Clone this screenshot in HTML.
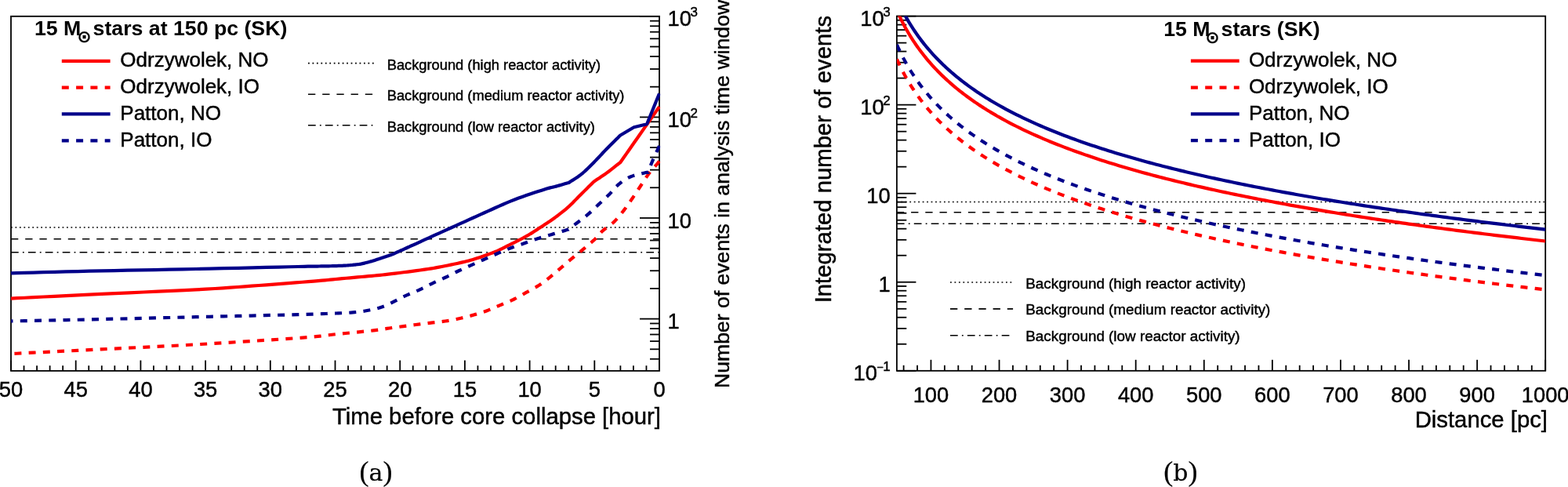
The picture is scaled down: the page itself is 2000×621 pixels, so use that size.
<!DOCTYPE html>
<html><head><meta charset="utf-8"><title>Pre-supernova neutrino events</title>
<style>html,body{margin:0;padding:0;background:#fff;}body{width:2000px;height:621px;overflow:hidden;}svg{display:block;}</style>
</head><body>
<svg width="2000" height="621" viewBox="0 0 2000 621">
<rect width="2000" height="621" fill="#fff"/>
<clipPath id="cl"><rect x="12.8" y="20.8" width="829.4" height="452.09999999999997"/></clipPath>
<clipPath id="cr"><rect x="1143.9" y="20.6" width="827.3" height="452.2"/></clipPath>
<line x1="14.00" y1="289.91" x2="841.00" y2="289.91" stroke="#000" stroke-width="1.5" stroke-dasharray="1.8 3.66"/>
<line x1="14.00" y1="304.70" x2="841.00" y2="304.70" stroke="#000" stroke-width="1.5" stroke-dasharray="9.3 8.9"/>
<line x1="14.00" y1="321.73" x2="841.00" y2="321.73" stroke="#000" stroke-width="1.5" stroke-dasharray="9.7 5.2 1.8 5.2"/>
<rect x="14.0" y="20.8" width="827.0" height="452.09999999999997" fill="none" stroke="#000" stroke-width="1.8"/>
<line x1="841.00" y1="472.90" x2="841.00" y2="459.50" stroke="#000" stroke-width="1.8" />
<text x="841.00" y="505.80" font-size="27.3" text-anchor="middle" font-weight="normal" font-family='"Liberation Sans", Arial, Helvetica, sans-serif' stroke="#000" stroke-width="0.45" >0</text>
<line x1="824.46" y1="472.90" x2="824.46" y2="466.20" stroke="#000" stroke-width="1.8" />
<line x1="807.92" y1="472.90" x2="807.92" y2="466.20" stroke="#000" stroke-width="1.8" />
<line x1="791.38" y1="472.90" x2="791.38" y2="466.20" stroke="#000" stroke-width="1.8" />
<line x1="774.84" y1="472.90" x2="774.84" y2="466.20" stroke="#000" stroke-width="1.8" />
<line x1="758.30" y1="472.90" x2="758.30" y2="459.50" stroke="#000" stroke-width="1.8" />
<text x="758.30" y="505.80" font-size="27.3" text-anchor="middle" font-weight="normal" font-family='"Liberation Sans", Arial, Helvetica, sans-serif' stroke="#000" stroke-width="0.45" >5</text>
<line x1="741.76" y1="472.90" x2="741.76" y2="466.20" stroke="#000" stroke-width="1.8" />
<line x1="725.22" y1="472.90" x2="725.22" y2="466.20" stroke="#000" stroke-width="1.8" />
<line x1="708.68" y1="472.90" x2="708.68" y2="466.20" stroke="#000" stroke-width="1.8" />
<line x1="692.14" y1="472.90" x2="692.14" y2="466.20" stroke="#000" stroke-width="1.8" />
<line x1="675.60" y1="472.90" x2="675.60" y2="459.50" stroke="#000" stroke-width="1.8" />
<text x="675.60" y="505.80" font-size="27.3" text-anchor="middle" font-weight="normal" font-family='"Liberation Sans", Arial, Helvetica, sans-serif' stroke="#000" stroke-width="0.45" >10</text>
<line x1="659.06" y1="472.90" x2="659.06" y2="466.20" stroke="#000" stroke-width="1.8" />
<line x1="642.52" y1="472.90" x2="642.52" y2="466.20" stroke="#000" stroke-width="1.8" />
<line x1="625.98" y1="472.90" x2="625.98" y2="466.20" stroke="#000" stroke-width="1.8" />
<line x1="609.44" y1="472.90" x2="609.44" y2="466.20" stroke="#000" stroke-width="1.8" />
<line x1="592.90" y1="472.90" x2="592.90" y2="459.50" stroke="#000" stroke-width="1.8" />
<text x="592.90" y="505.80" font-size="27.3" text-anchor="middle" font-weight="normal" font-family='"Liberation Sans", Arial, Helvetica, sans-serif' stroke="#000" stroke-width="0.45" >15</text>
<line x1="576.36" y1="472.90" x2="576.36" y2="466.20" stroke="#000" stroke-width="1.8" />
<line x1="559.82" y1="472.90" x2="559.82" y2="466.20" stroke="#000" stroke-width="1.8" />
<line x1="543.28" y1="472.90" x2="543.28" y2="466.20" stroke="#000" stroke-width="1.8" />
<line x1="526.74" y1="472.90" x2="526.74" y2="466.20" stroke="#000" stroke-width="1.8" />
<line x1="510.20" y1="472.90" x2="510.20" y2="459.50" stroke="#000" stroke-width="1.8" />
<text x="510.20" y="505.80" font-size="27.3" text-anchor="middle" font-weight="normal" font-family='"Liberation Sans", Arial, Helvetica, sans-serif' stroke="#000" stroke-width="0.45" >20</text>
<line x1="493.66" y1="472.90" x2="493.66" y2="466.20" stroke="#000" stroke-width="1.8" />
<line x1="477.12" y1="472.90" x2="477.12" y2="466.20" stroke="#000" stroke-width="1.8" />
<line x1="460.58" y1="472.90" x2="460.58" y2="466.20" stroke="#000" stroke-width="1.8" />
<line x1="444.04" y1="472.90" x2="444.04" y2="466.20" stroke="#000" stroke-width="1.8" />
<line x1="427.50" y1="472.90" x2="427.50" y2="459.50" stroke="#000" stroke-width="1.8" />
<text x="427.50" y="505.80" font-size="27.3" text-anchor="middle" font-weight="normal" font-family='"Liberation Sans", Arial, Helvetica, sans-serif' stroke="#000" stroke-width="0.45" >25</text>
<line x1="410.96" y1="472.90" x2="410.96" y2="466.20" stroke="#000" stroke-width="1.8" />
<line x1="394.42" y1="472.90" x2="394.42" y2="466.20" stroke="#000" stroke-width="1.8" />
<line x1="377.88" y1="472.90" x2="377.88" y2="466.20" stroke="#000" stroke-width="1.8" />
<line x1="361.34" y1="472.90" x2="361.34" y2="466.20" stroke="#000" stroke-width="1.8" />
<line x1="344.80" y1="472.90" x2="344.80" y2="459.50" stroke="#000" stroke-width="1.8" />
<text x="344.80" y="505.80" font-size="27.3" text-anchor="middle" font-weight="normal" font-family='"Liberation Sans", Arial, Helvetica, sans-serif' stroke="#000" stroke-width="0.45" >30</text>
<line x1="328.26" y1="472.90" x2="328.26" y2="466.20" stroke="#000" stroke-width="1.8" />
<line x1="311.72" y1="472.90" x2="311.72" y2="466.20" stroke="#000" stroke-width="1.8" />
<line x1="295.18" y1="472.90" x2="295.18" y2="466.20" stroke="#000" stroke-width="1.8" />
<line x1="278.64" y1="472.90" x2="278.64" y2="466.20" stroke="#000" stroke-width="1.8" />
<line x1="262.10" y1="472.90" x2="262.10" y2="459.50" stroke="#000" stroke-width="1.8" />
<text x="262.10" y="505.80" font-size="27.3" text-anchor="middle" font-weight="normal" font-family='"Liberation Sans", Arial, Helvetica, sans-serif' stroke="#000" stroke-width="0.45" >35</text>
<line x1="245.56" y1="472.90" x2="245.56" y2="466.20" stroke="#000" stroke-width="1.8" />
<line x1="229.02" y1="472.90" x2="229.02" y2="466.20" stroke="#000" stroke-width="1.8" />
<line x1="212.48" y1="472.90" x2="212.48" y2="466.20" stroke="#000" stroke-width="1.8" />
<line x1="195.94" y1="472.90" x2="195.94" y2="466.20" stroke="#000" stroke-width="1.8" />
<line x1="179.40" y1="472.90" x2="179.40" y2="459.50" stroke="#000" stroke-width="1.8" />
<text x="179.40" y="505.80" font-size="27.3" text-anchor="middle" font-weight="normal" font-family='"Liberation Sans", Arial, Helvetica, sans-serif' stroke="#000" stroke-width="0.45" >40</text>
<line x1="162.86" y1="472.90" x2="162.86" y2="466.20" stroke="#000" stroke-width="1.8" />
<line x1="146.32" y1="472.90" x2="146.32" y2="466.20" stroke="#000" stroke-width="1.8" />
<line x1="129.78" y1="472.90" x2="129.78" y2="466.20" stroke="#000" stroke-width="1.8" />
<line x1="113.24" y1="472.90" x2="113.24" y2="466.20" stroke="#000" stroke-width="1.8" />
<line x1="96.70" y1="472.90" x2="96.70" y2="459.50" stroke="#000" stroke-width="1.8" />
<text x="96.70" y="505.80" font-size="27.3" text-anchor="middle" font-weight="normal" font-family='"Liberation Sans", Arial, Helvetica, sans-serif' stroke="#000" stroke-width="0.45" >45</text>
<line x1="80.16" y1="472.90" x2="80.16" y2="466.20" stroke="#000" stroke-width="1.8" />
<line x1="63.62" y1="472.90" x2="63.62" y2="466.20" stroke="#000" stroke-width="1.8" />
<line x1="47.08" y1="472.90" x2="47.08" y2="466.20" stroke="#000" stroke-width="1.8" />
<line x1="30.54" y1="472.90" x2="30.54" y2="466.20" stroke="#000" stroke-width="1.8" />
<line x1="14.00" y1="472.90" x2="14.00" y2="459.50" stroke="#000" stroke-width="1.8" />
<text x="14.00" y="505.80" font-size="27.3" text-anchor="middle" font-weight="normal" font-family='"Liberation Sans", Arial, Helvetica, sans-serif' stroke="#000" stroke-width="0.45" >50</text>
<line x1="841.00" y1="457.78" x2="829.00" y2="457.78" stroke="#000" stroke-width="1.8" />
<line x1="841.00" y1="445.31" x2="829.00" y2="445.31" stroke="#000" stroke-width="1.8" />
<line x1="841.00" y1="435.13" x2="829.00" y2="435.13" stroke="#000" stroke-width="1.8" />
<line x1="841.00" y1="426.52" x2="829.00" y2="426.52" stroke="#000" stroke-width="1.8" />
<line x1="841.00" y1="419.06" x2="829.00" y2="419.06" stroke="#000" stroke-width="1.8" />
<line x1="841.00" y1="412.48" x2="829.00" y2="412.48" stroke="#000" stroke-width="1.8" />
<line x1="841.00" y1="406.60" x2="816.00" y2="406.60" stroke="#000" stroke-width="1.8" />
<line x1="841.00" y1="367.89" x2="829.00" y2="367.89" stroke="#000" stroke-width="1.8" />
<line x1="841.00" y1="345.24" x2="829.00" y2="345.24" stroke="#000" stroke-width="1.8" />
<line x1="841.00" y1="329.18" x2="829.00" y2="329.18" stroke="#000" stroke-width="1.8" />
<line x1="841.00" y1="316.71" x2="829.00" y2="316.71" stroke="#000" stroke-width="1.8" />
<line x1="841.00" y1="306.53" x2="829.00" y2="306.53" stroke="#000" stroke-width="1.8" />
<line x1="841.00" y1="297.92" x2="829.00" y2="297.92" stroke="#000" stroke-width="1.8" />
<line x1="841.00" y1="290.46" x2="829.00" y2="290.46" stroke="#000" stroke-width="1.8" />
<line x1="841.00" y1="283.88" x2="829.00" y2="283.88" stroke="#000" stroke-width="1.8" />
<line x1="841.00" y1="278.00" x2="816.00" y2="278.00" stroke="#000" stroke-width="1.8" />
<line x1="841.00" y1="239.29" x2="829.00" y2="239.29" stroke="#000" stroke-width="1.8" />
<line x1="841.00" y1="216.64" x2="829.00" y2="216.64" stroke="#000" stroke-width="1.8" />
<line x1="841.00" y1="200.58" x2="829.00" y2="200.58" stroke="#000" stroke-width="1.8" />
<line x1="841.00" y1="188.11" x2="829.00" y2="188.11" stroke="#000" stroke-width="1.8" />
<line x1="841.00" y1="177.93" x2="829.00" y2="177.93" stroke="#000" stroke-width="1.8" />
<line x1="841.00" y1="169.32" x2="829.00" y2="169.32" stroke="#000" stroke-width="1.8" />
<line x1="841.00" y1="161.86" x2="829.00" y2="161.86" stroke="#000" stroke-width="1.8" />
<line x1="841.00" y1="155.28" x2="829.00" y2="155.28" stroke="#000" stroke-width="1.8" />
<line x1="841.00" y1="149.40" x2="816.00" y2="149.40" stroke="#000" stroke-width="1.8" />
<line x1="841.00" y1="110.69" x2="829.00" y2="110.69" stroke="#000" stroke-width="1.8" />
<line x1="841.00" y1="88.04" x2="829.00" y2="88.04" stroke="#000" stroke-width="1.8" />
<line x1="841.00" y1="71.98" x2="829.00" y2="71.98" stroke="#000" stroke-width="1.8" />
<line x1="841.00" y1="59.51" x2="829.00" y2="59.51" stroke="#000" stroke-width="1.8" />
<line x1="841.00" y1="49.33" x2="829.00" y2="49.33" stroke="#000" stroke-width="1.8" />
<line x1="841.00" y1="40.72" x2="829.00" y2="40.72" stroke="#000" stroke-width="1.8" />
<line x1="841.00" y1="33.26" x2="829.00" y2="33.26" stroke="#000" stroke-width="1.8" />
<line x1="841.00" y1="26.68" x2="829.00" y2="26.68" stroke="#000" stroke-width="1.8" />
<line x1="841.00" y1="20.80" x2="816.00" y2="20.80" stroke="#000" stroke-width="1.6" />
<text x="851.50" y="419.10" font-size="27.3" text-anchor="start" font-weight="normal" font-family='"Liberation Sans", Arial, Helvetica, sans-serif' stroke="#000" stroke-width="0.45" >1</text>
<text x="851.50" y="290.50" font-size="27.3" text-anchor="start" font-weight="normal" font-family='"Liberation Sans", Arial, Helvetica, sans-serif' stroke="#000" stroke-width="0.45" >10</text>
<text x="851.50" y="161.90" font-size="27.3" text-anchor="start" font-weight="normal" font-family='"Liberation Sans", Arial, Helvetica, sans-serif' stroke="#000" stroke-width="0.45" >10<tspan font-size="17" dx="-1.5" dy="-12">2</tspan></text>
<text x="851.50" y="33.30" font-size="27.3" text-anchor="start" font-weight="normal" font-family='"Liberation Sans", Arial, Helvetica, sans-serif' stroke="#000" stroke-width="0.45" >10<tspan font-size="17" dx="-1.5" dy="-12">3</tspan></text>
<text x="843.00" y="540.50" font-size="29.3" text-anchor="end" font-weight="normal" font-family='"Liberation Sans", Arial, Helvetica, sans-serif' stroke="#000" stroke-width="0.45" >Time before core collapse [hour]</text>
<text x="930.20" y="495.00" font-size="26.6" text-anchor="start" font-weight="normal" font-family='"Liberation Sans", Arial, Helvetica, sans-serif' stroke="#000" stroke-width="0.45" transform="rotate(-90 930.2 495)">Number of events in analysis time window</text>
<path d="M14.00,380.60 L21.47,380.22 L31.12,379.73 L42.59,379.14 L55.50,378.49 L69.47,377.78 L84.12,377.05 L99.09,376.32 L114.00,375.60 L129.66,374.88 L146.78,374.12 L164.82,373.33 L183.25,372.52 L201.52,371.72 L219.09,370.92 L235.43,370.14 L250.00,369.40 L262.75,368.69 L274.17,367.99 L284.54,367.32 L294.12,366.65 L303.19,365.99 L312.02,365.33 L320.86,364.67 L330.00,364.00 L339.49,363.31 L349.09,362.59 L358.64,361.87 L367.99,361.15 L376.96,360.45 L385.39,359.78 L393.13,359.16 L400.00,358.60 L405.80,358.11 L410.58,357.69 L414.60,357.32 L418.11,356.98 L421.38,356.65 L424.64,356.32 L428.17,355.98 L432.20,355.60 L436.71,355.19 L441.45,354.77 L446.33,354.34 L451.27,353.90 L456.19,353.46 L461.01,353.03 L465.64,352.61 L470.00,352.20 L474.00,351.82 L477.68,351.48 L481.15,351.15 L484.53,350.82 L487.92,350.48 L491.46,350.10 L495.25,349.68 L499.40,349.20 L504.08,348.63 L509.25,347.99 L514.71,347.29 L520.29,346.57 L525.79,345.84 L531.04,345.14 L535.83,344.48 L540.00,343.90 L543.42,343.41 L546.21,343.00 L548.57,342.64 L550.66,342.31 L552.67,341.96 L554.78,341.58 L557.16,341.14 L560.00,340.60 L563.34,339.96 L567.05,339.23 L570.99,338.45 L575.04,337.62 L579.09,336.79 L583.02,335.95 L586.69,335.15 L590.00,334.40 L592.91,333.71 L595.54,333.06 L597.96,332.44 L600.23,331.82 L602.43,331.20 L604.63,330.55 L606.89,329.86 L609.30,329.10 L611.90,328.25 L614.63,327.33 L617.44,326.34 L620.25,325.34 L622.98,324.34 L625.57,323.38 L627.93,322.49 L630.00,321.70 L631.74,321.02 L633.20,320.42 L634.45,319.89 L635.54,319.39 L636.55,318.92 L637.54,318.44 L638.57,317.95 L639.70,317.40 L640.90,316.82 L642.10,316.21 L643.30,315.60 L644.50,314.98 L645.70,314.36 L646.90,313.73 L648.10,313.11 L649.30,312.50 L650.51,311.90 L651.72,311.30 L652.93,310.70 L654.14,310.11 L655.36,309.51 L656.57,308.91 L657.79,308.31 L659.00,307.70 L660.21,307.09 L661.43,306.48 L662.64,305.87 L663.86,305.25 L665.07,304.63 L666.28,304.00 L667.49,303.36 L668.70,302.70 L669.90,302.03 L671.10,301.36 L672.30,300.67 L673.50,299.98 L674.70,299.28 L675.90,298.56 L677.10,297.84 L678.30,297.10 L679.51,296.35 L680.72,295.57 L681.93,294.79 L683.14,293.99 L684.36,293.19 L685.57,292.39 L686.79,291.59 L688.00,290.80 L689.22,290.01 L690.44,289.23 L691.66,288.44 L692.88,287.65 L694.10,286.86 L695.31,286.07 L696.51,285.29 L697.70,284.50 L698.82,283.76 L699.85,283.09 L700.85,282.45 L701.85,281.79 L702.91,281.08 L704.07,280.27 L705.38,279.32 L706.90,278.20 L708.64,276.90 L710.58,275.45 L712.67,273.87 L714.87,272.20 L717.12,270.44 L719.39,268.63 L721.63,266.77 L723.80,264.90 L725.91,262.98 L728.02,260.96 L730.14,258.89 L732.25,256.76 L734.36,254.61 L736.48,252.45 L738.59,250.31 L740.70,248.20 L742.93,246.00 L745.32,243.63 L747.78,241.20 L750.21,238.81 L752.50,236.54 L754.56,234.50 L756.30,232.79 L757.60,231.50 L758.83,230.68 L760.46,229.60 L762.39,228.33 L764.55,226.90 L766.85,225.36 L769.19,223.77 L771.51,222.17 L773.70,220.60 L775.95,218.94 L778.41,217.07 L780.96,215.10 L783.51,213.12 L785.92,211.22 L788.10,209.51 L789.93,208.07 L791.30,207.00 L793.25,204.22 L795.84,200.51 L798.94,196.09 L802.37,191.18 L805.99,186.00 L809.66,180.77 L813.21,175.69 L816.50,171.00 L819.76,166.35 L823.25,161.38 L826.82,156.30 L830.33,151.30 L833.64,146.58 L836.61,142.35 L839.11,138.78 L841.00,136.10" fill="none" stroke="#ff0000" stroke-width="4.2" stroke-linejoin="round" clip-path="url(#cl)"/>
<path d="M841.00,205.50 L840.78,205.78 L840.54,206.08 L840.25,206.44 L839.91,206.87 L839.48,207.40 L838.95,208.05 L838.30,208.84 L837.50,209.80 L836.52,210.95 L835.37,212.27 L834.08,213.75 L832.69,215.34 L831.25,217.02 L829.79,218.76 L828.36,220.53 L827.00,222.30 L825.69,224.11 L824.38,226.00 L823.06,227.95 L821.75,229.94 L820.44,231.96 L819.12,233.99 L817.81,236.01 L816.50,238.00 L815.19,239.98 L813.87,241.97 L812.56,243.97 L811.24,245.97 L809.93,247.96 L808.62,249.93 L807.31,251.88 L806.00,253.80 L804.71,255.68 L803.44,257.53 L802.19,259.36 L800.93,261.17 L799.66,262.97 L798.35,264.77 L797.00,266.58 L795.60,268.40 L794.14,270.25 L792.65,272.14 L791.12,274.05 L789.56,275.94 L787.97,277.82 L786.34,279.65 L784.69,281.41 L783.00,283.10 L781.25,284.69 L779.42,286.19 L777.53,287.62 L775.62,289.01 L773.73,290.38 L771.87,291.76 L770.09,293.16 L768.40,294.60 L766.96,295.98 L765.81,297.24 L764.80,298.46 L763.79,299.71 L762.64,301.07 L761.22,302.64 L759.39,304.49 L757.00,306.70 L753.77,309.51 L749.70,312.95 L745.10,316.78 L740.29,320.76 L735.56,324.64 L731.23,328.18 L727.61,331.15 L725.00,333.30 L722.91,335.10 L720.03,337.58 L716.59,340.55 L712.82,343.79 L708.96,347.11 L705.23,350.29 L701.87,353.12 L699.10,355.40 L696.93,357.14 L695.13,358.55 L693.62,359.70 L692.28,360.68 L691.01,361.54 L689.73,362.38 L688.33,363.28 L686.70,364.30 L684.88,365.41 L682.97,366.53 L681.00,367.64 L678.98,368.76 L676.92,369.87 L674.86,370.98 L672.82,372.09 L670.80,373.20 L668.81,374.32 L666.83,375.45 L664.84,376.58 L662.86,377.71 L660.86,378.83 L658.86,379.92 L656.84,380.98 L654.80,382.00 L652.74,382.97 L650.66,383.89 L648.56,384.79 L646.46,385.66 L644.34,386.51 L642.23,387.36 L640.11,388.22 L638.00,389.10 L635.89,390.00 L633.78,390.92 L631.67,391.84 L629.55,392.76 L627.43,393.67 L625.32,394.55 L623.21,395.40 L621.10,396.20 L619.00,396.95 L616.91,397.67 L614.83,398.35 L612.75,399.01 L610.66,399.65 L608.56,400.27 L606.44,400.89 L604.30,401.50 L602.14,402.11 L599.96,402.70 L597.77,403.29 L595.56,403.86 L593.34,404.42 L591.11,404.96 L588.86,405.49 L586.60,406.00 L584.38,406.49 L582.23,406.95 L580.10,407.39 L577.94,407.82 L575.70,408.25 L573.33,408.66 L570.78,409.08 L568.00,409.50 L565.03,409.91 L561.94,410.29 L558.72,410.67 L555.34,411.04 L551.79,411.43 L548.06,411.85 L544.14,412.30 L540.00,412.80 L535.46,413.37 L530.46,414.01 L525.15,414.69 L519.72,415.39 L514.32,416.10 L509.12,416.78 L504.29,417.42 L500.00,418.00 L496.44,418.50 L493.54,418.94 L491.06,419.35 L488.76,419.72 L486.40,420.10 L483.72,420.49 L480.51,420.92 L476.50,421.40 L471.62,421.94 L466.05,422.51 L459.98,423.12 L453.59,423.74 L447.04,424.37 L440.53,425.00 L434.22,425.61 L428.30,426.20 L423.35,426.74 L419.46,427.23 L416.05,427.69 L412.52,428.16 L408.32,428.65 L402.85,429.21 L395.54,429.85 L385.80,430.60 L373.29,431.49 L358.41,432.52 L341.72,433.63 L323.74,434.80 L305.04,435.99 L286.15,437.16 L267.62,438.27 L250.00,439.30 L232.76,440.25 L215.17,441.18 L197.43,442.07 L179.76,442.93 L162.37,443.77 L145.47,444.57 L129.28,445.35 L114.00,446.10 L99.09,446.85 L84.12,447.59 L69.47,448.33 L55.50,449.03 L42.59,449.67 L31.12,450.24 L21.47,450.73 L14.00,451.10" fill="none" stroke="#ff0000" stroke-width="4.2" stroke-linejoin="round" stroke-dasharray="9 9.235" stroke-dashoffset="0" clip-path="url(#cl)"/>
<path d="M14.00,348.40 L21.47,348.19 L31.12,347.91 L42.59,347.59 L55.50,347.22 L69.47,346.83 L84.12,346.44 L99.09,346.06 L114.00,345.70 L129.32,345.36 L145.61,345.03 L162.63,344.70 L180.12,344.37 L197.86,344.03 L215.58,343.70 L233.04,343.35 L250.00,343.00 L267.29,342.62 L285.50,342.21 L304.02,341.78 L322.25,341.36 L339.57,340.95 L355.38,340.57 L369.05,340.25 L380.00,340.00 L387.77,339.82 L392.75,339.71 L395.59,339.66 L396.92,339.63 L397.39,339.63 L397.63,339.63 L398.29,339.63 L400.00,339.60 L402.45,339.56 L404.87,339.53 L407.29,339.49 L409.69,339.46 L412.09,339.43 L414.49,339.39 L416.89,339.35 L419.30,339.30 L421.76,339.24 L424.27,339.18 L426.82,339.11 L429.35,339.04 L431.83,338.97 L434.23,338.89 L436.49,338.80 L438.60,338.70 L440.54,338.60 L442.35,338.49 L444.05,338.37 L445.65,338.24 L447.18,338.11 L448.65,337.98 L450.08,337.84 L451.50,337.70 L452.87,337.56 L454.17,337.42 L455.41,337.27 L456.61,337.12 L457.77,336.97 L458.91,336.80 L460.05,336.61 L461.20,336.40 L462.36,336.16 L463.53,335.90 L464.68,335.62 L465.82,335.32 L466.94,335.03 L468.01,334.74 L469.04,334.46 L470.00,334.20 L470.88,333.97 L471.67,333.76 L472.40,333.57 L473.09,333.38 L473.78,333.19 L474.50,332.98 L475.26,332.76 L476.10,332.50 L477.02,332.21 L477.99,331.89 L479.00,331.56 L480.03,331.21 L481.08,330.85 L482.14,330.49 L483.18,330.14 L484.20,329.80 L485.20,329.47 L486.20,329.15 L487.20,328.83 L488.20,328.51 L489.20,328.19 L490.20,327.86 L491.20,327.53 L492.20,327.20 L493.21,326.87 L494.22,326.53 L495.23,326.20 L496.25,325.86 L497.27,325.52 L498.28,325.16 L499.29,324.79 L500.30,324.40 L501.30,323.99 L502.30,323.56 L503.30,323.11 L504.30,322.65 L505.30,322.19 L506.30,321.72 L507.30,321.26 L508.30,320.80 L509.31,320.35 L510.32,319.90 L511.33,319.45 L512.35,319.01 L513.37,318.56 L514.38,318.11 L515.39,317.65 L516.40,317.20 L517.42,316.73 L518.46,316.25 L519.51,315.76 L520.56,315.27 L521.58,314.80 L522.57,314.34 L523.52,313.90 L524.40,313.50 L525.12,313.18 L525.63,312.97 L526.04,312.80 L526.45,312.64 L526.95,312.44 L527.64,312.15 L528.63,311.72 L530.00,311.10 L531.74,310.30 L533.75,309.38 L536.01,308.34 L538.48,307.19 L541.13,305.96 L543.96,304.66 L546.92,303.30 L550.00,301.90 L553.22,300.44 L556.63,298.91 L560.20,297.30 L563.92,295.63 L567.78,293.90 L571.75,292.11 L575.83,290.28 L580.00,288.40 L584.30,286.45 L588.78,284.41 L593.40,282.31 L598.11,280.16 L602.90,277.98 L607.71,275.80 L612.53,273.63 L617.30,271.50 L622.06,269.37 L626.86,267.21 L631.68,265.03 L636.51,262.87 L641.36,260.73 L646.21,258.64 L651.06,256.63 L655.90,254.70 L660.90,252.81 L666.13,250.93 L671.46,249.08 L676.74,247.29 L681.84,245.61 L686.61,244.06 L690.91,242.68 L694.60,241.50 L697.58,240.57 L699.93,239.89 L701.80,239.39 L703.36,239.02 L704.73,238.71 L706.08,238.41 L707.55,238.06 L709.30,237.60 L711.36,237.02 L713.62,236.37 L715.98,235.69 L718.32,235.01 L720.55,234.35 L722.55,233.76 L724.24,233.27 L725.50,232.90 L726.73,232.11 L728.37,231.09 L730.32,229.87 L732.49,228.51 L734.79,227.02 L737.12,225.45 L739.39,223.83 L741.50,222.20 L743.51,220.52 L745.52,218.74 L747.53,216.87 L749.54,214.94 L751.56,212.96 L753.57,210.95 L755.59,208.92 L757.60,206.90 L759.60,204.87 L761.59,202.80 L763.57,200.71 L765.56,198.59 L767.55,196.45 L769.57,194.30 L771.62,192.15 L773.70,190.00 L775.95,187.72 L778.41,185.26 L780.96,182.71 L783.51,180.19 L785.92,177.81 L788.10,175.66 L789.93,173.85 L791.30,172.50 L808.60,162.20 L825.10,158.30 L841.00,119.30" fill="none" stroke="#00008a" stroke-width="4.2" stroke-linejoin="round" clip-path="url(#cl)"/>
<path d="M841.00,186.00 L840.21,187.74 L839.11,190.12 L837.80,192.97 L836.36,196.09 L834.90,199.31 L833.49,202.44 L832.22,205.30 L831.20,207.70 L830.38,209.75 L829.66,211.68 L829.03,213.47 L828.49,215.11 L828.02,216.57 L827.62,217.85 L827.29,218.93 L827.00,219.80 L826.78,219.81 L826.59,219.78 L826.37,219.74 L826.07,219.73 L825.63,219.75 L824.97,219.83 L824.05,220.01 L822.80,220.30 L821.12,220.70 L819.03,221.17 L816.64,221.72 L814.06,222.34 L811.39,223.04 L808.75,223.79 L806.25,224.62 L804.00,225.50 L801.95,226.45 L799.98,227.47 L798.08,228.55 L796.24,229.71 L794.46,230.92 L792.71,232.19 L790.99,233.52 L789.30,234.90 L787.66,236.36 L786.09,237.92 L784.57,239.55 L783.09,241.23 L781.61,242.94 L780.12,244.65 L778.59,246.35 L777.00,248.00 L775.35,249.62 L773.67,251.24 L771.97,252.86 L770.24,254.47 L768.50,256.08 L766.76,257.69 L765.02,259.29 L763.30,260.90 L761.59,262.52 L759.90,264.14 L758.20,265.77 L756.51,267.40 L754.80,269.01 L753.09,270.61 L751.36,272.17 L749.60,273.70 L747.79,275.21 L745.90,276.72 L743.98,278.21 L742.06,279.68 L740.16,281.11 L738.33,282.48 L736.60,283.78 L735.00,285.00 L733.48,286.17 L731.98,287.32 L730.54,288.42 L729.19,289.46 L727.95,290.40 L726.85,291.24 L725.92,291.95 L725.20,292.50 L723.20,293.10 L720.46,293.91 L717.20,294.88 L713.62,295.94 L709.91,297.05 L706.26,298.13 L702.90,299.14 L700.00,300.00 L697.54,300.73 L695.30,301.38 L693.24,301.98 L691.30,302.55 L689.43,303.10 L687.57,303.67 L685.68,304.26 L683.70,304.90 L681.65,305.59 L679.60,306.31 L677.54,307.06 L675.48,307.81 L673.42,308.57 L671.37,309.33 L669.33,310.07 L667.30,310.80 L665.30,311.50 L663.32,312.17 L661.35,312.83 L659.39,313.48 L657.42,314.15 L655.44,314.83 L653.44,315.54 L651.40,316.30 L649.32,317.10 L647.21,317.94 L645.08,318.80 L642.93,319.69 L640.78,320.59 L638.63,321.49 L636.50,322.40 L634.40,323.30 L632.33,324.20 L630.28,325.09 L628.25,326.00 L626.23,326.91 L624.20,327.82 L622.16,328.74 L620.09,329.67 L618.00,330.60 L615.87,331.54 L613.71,332.50 L611.53,333.46 L609.33,334.43 L607.13,335.39 L604.94,336.37 L602.76,337.33 L600.60,338.30 L598.46,339.26 L596.32,340.22 L594.19,341.17 L592.07,342.13 L589.96,343.09 L587.86,344.05 L585.77,345.02 L583.70,346.00 L581.65,346.99 L579.62,348.00 L577.60,349.01 L575.60,350.02 L573.60,351.04 L571.61,352.04 L569.61,353.03 L567.60,354.00 L565.59,354.94 L563.58,355.86 L561.56,356.75 L559.55,357.64 L557.54,358.53 L555.52,359.44 L553.51,360.35 L551.50,361.30 L549.51,362.27 L547.55,363.27 L545.60,364.27 L543.65,365.29 L541.67,366.32 L539.65,367.35 L537.57,368.38 L535.40,369.40 L533.19,370.39 L530.96,371.33 L528.70,372.26 L526.38,373.20 L523.98,374.18 L521.48,375.22 L518.86,376.35 L516.10,377.60 L513.14,379.04 L509.98,380.66 L506.68,382.41 L503.29,384.20 L499.87,385.98 L496.47,387.66 L493.17,389.20 L490.00,390.50 L486.94,391.59 L483.92,392.53 L480.95,393.35 L478.02,394.06 L475.15,394.69 L472.34,395.26 L469.59,395.79 L466.90,396.30 L464.31,396.76 L461.81,397.15 L459.38,397.48 L457.01,397.76 L454.67,397.99 L452.34,398.21 L449.99,398.40 L447.60,398.60 L445.39,398.77 L443.45,398.91 L441.64,399.01 L439.76,399.09 L437.66,399.17 L435.16,399.26 L432.10,399.36 L428.30,399.50 L424.21,399.66 L420.18,399.82 L415.90,399.98 L411.07,400.16 L405.37,400.36 L398.50,400.58 L390.15,400.82 L380.00,401.10 L367.70,401.42 L353.39,401.77 L337.50,402.15 L320.48,402.55 L302.78,402.96 L284.84,403.38 L267.10,403.80 L250.00,404.20 L233.04,404.60 L215.58,405.02 L197.86,405.44 L180.12,405.86 L162.63,406.28 L145.61,406.67 L129.32,407.05 L114.00,407.40 L99.09,407.73 L84.12,408.05 L69.47,408.36 L55.50,408.65 L42.59,408.91 L31.12,409.15 L21.47,409.35 L14.00,409.50" fill="none" stroke="#00008a" stroke-width="4.2" stroke-linejoin="round" stroke-dasharray="9 9.247" stroke-dashoffset="0" clip-path="url(#cl)"/>
<text x="44.00" y="45.00" font-size="26.7" text-anchor="start" font-weight="bold" font-family='"Liberation Sans", Arial, Helvetica, sans-serif' >15 M</text>
<text x="98.60" y="54.06" font-size="21.5" text-anchor="start" font-weight="bold" font-family='"DejaVu Sans", "Liberation Sans", sans-serif' stroke="#000" stroke-width="0.2" >⊙</text>
<text x="118.60" y="45.00" font-size="26.7" text-anchor="start" font-weight="bold" font-family='"Liberation Sans", Arial, Helvetica, sans-serif' >stars at 150 pc (SK)</text>
<line x1="78.80" y1="77.80" x2="140.60" y2="77.80" stroke="#ff0000" stroke-width="4.2" />
<text x="153.30" y="85.40" font-size="26" text-anchor="start" font-weight="normal" font-family='"Liberation Sans", Arial, Helvetica, sans-serif' stroke="#000" stroke-width="0.45" >Odrzywolek, NO</text>
<line x1="78.80" y1="111.63" x2="140.60" y2="111.63" stroke="#ff0000" stroke-width="4.2" stroke-dasharray="9 9.3"/>
<text x="153.30" y="119.23" font-size="26" text-anchor="start" font-weight="normal" font-family='"Liberation Sans", Arial, Helvetica, sans-serif' stroke="#000" stroke-width="0.45" >Odrzywolek, IO</text>
<line x1="78.80" y1="145.46" x2="140.60" y2="145.46" stroke="#00008a" stroke-width="4.2" />
<text x="153.30" y="153.06" font-size="26" text-anchor="start" font-weight="normal" font-family='"Liberation Sans", Arial, Helvetica, sans-serif' stroke="#000" stroke-width="0.45" >Patton, NO</text>
<line x1="78.80" y1="179.29" x2="140.60" y2="179.29" stroke="#00008a" stroke-width="4.2" stroke-dasharray="9 9.3"/>
<text x="153.30" y="186.89" font-size="26" text-anchor="start" font-weight="normal" font-family='"Liberation Sans", Arial, Helvetica, sans-serif' stroke="#000" stroke-width="0.45" >Patton, IO</text>
<line x1="393.00" y1="80.60" x2="477.10" y2="80.60" stroke="#000" stroke-width="1.6" stroke-dasharray="1.8 3.66"/>
<text x="493.70" y="88.90" font-size="18.3" text-anchor="start" font-weight="normal" font-family='"Liberation Sans", Arial, Helvetica, sans-serif' stroke="#000" stroke-width="0.45" >Background (high reactor activity)</text>
<line x1="393.00" y1="120.20" x2="477.10" y2="120.20" stroke="#000" stroke-width="1.6" stroke-dasharray="9.3 8.9"/>
<text x="493.70" y="128.30" font-size="18.3" text-anchor="start" font-weight="normal" font-family='"Liberation Sans", Arial, Helvetica, sans-serif' stroke="#000" stroke-width="0.45" >Background (medium reactor activity)</text>
<line x1="393.00" y1="159.80" x2="477.10" y2="159.80" stroke="#000" stroke-width="1.6" stroke-dasharray="9.7 5.2 1.8 5.2"/>
<text x="493.70" y="167.70" font-size="18.3" text-anchor="start" font-weight="normal" font-family='"Liberation Sans", Arial, Helvetica, sans-serif' stroke="#000" stroke-width="0.45" >Background (low reactor activity)</text>
<line x1="1143.90" y1="257.41" x2="1971.20" y2="257.41" stroke="#000" stroke-width="1.5" stroke-dasharray="1.8 3.66"/>
<line x1="1143.90" y1="270.65" x2="1971.20" y2="270.65" stroke="#000" stroke-width="1.5" stroke-dasharray="9.3 8.9"/>
<line x1="1143.90" y1="285.36" x2="1971.20" y2="285.36" stroke="#000" stroke-width="1.5" stroke-dasharray="9.7 5.2 1.8 5.2"/>
<rect x="1143.9" y="20.6" width="827.3" height="452.2" fill="none" stroke="#000" stroke-width="1.8"/>
<line x1="1152.61" y1="472.80" x2="1152.61" y2="465.80" stroke="#000" stroke-width="1.8" />
<line x1="1170.03" y1="472.80" x2="1170.03" y2="465.80" stroke="#000" stroke-width="1.8" />
<line x1="1187.44" y1="472.80" x2="1187.44" y2="458.80" stroke="#000" stroke-width="1.8" />
<text x="1187.44" y="512.90" font-size="27.3" text-anchor="middle" font-weight="normal" font-family='"Liberation Sans", Arial, Helvetica, sans-serif' stroke="#000" stroke-width="0.45" >100</text>
<line x1="1204.86" y1="472.80" x2="1204.86" y2="465.80" stroke="#000" stroke-width="1.8" />
<line x1="1222.28" y1="472.80" x2="1222.28" y2="465.80" stroke="#000" stroke-width="1.8" />
<line x1="1239.69" y1="472.80" x2="1239.69" y2="465.80" stroke="#000" stroke-width="1.8" />
<line x1="1257.11" y1="472.80" x2="1257.11" y2="465.80" stroke="#000" stroke-width="1.8" />
<line x1="1274.53" y1="472.80" x2="1274.53" y2="458.80" stroke="#000" stroke-width="1.8" />
<text x="1274.53" y="512.90" font-size="27.3" text-anchor="middle" font-weight="normal" font-family='"Liberation Sans", Arial, Helvetica, sans-serif' stroke="#000" stroke-width="0.45" >200</text>
<line x1="1291.94" y1="472.80" x2="1291.94" y2="465.80" stroke="#000" stroke-width="1.8" />
<line x1="1309.36" y1="472.80" x2="1309.36" y2="465.80" stroke="#000" stroke-width="1.8" />
<line x1="1326.78" y1="472.80" x2="1326.78" y2="465.80" stroke="#000" stroke-width="1.8" />
<line x1="1344.19" y1="472.80" x2="1344.19" y2="465.80" stroke="#000" stroke-width="1.8" />
<line x1="1361.61" y1="472.80" x2="1361.61" y2="458.80" stroke="#000" stroke-width="1.8" />
<text x="1361.61" y="512.90" font-size="27.3" text-anchor="middle" font-weight="normal" font-family='"Liberation Sans", Arial, Helvetica, sans-serif' stroke="#000" stroke-width="0.45" >300</text>
<line x1="1379.03" y1="472.80" x2="1379.03" y2="465.80" stroke="#000" stroke-width="1.8" />
<line x1="1396.44" y1="472.80" x2="1396.44" y2="465.80" stroke="#000" stroke-width="1.8" />
<line x1="1413.86" y1="472.80" x2="1413.86" y2="465.80" stroke="#000" stroke-width="1.8" />
<line x1="1431.28" y1="472.80" x2="1431.28" y2="465.80" stroke="#000" stroke-width="1.8" />
<line x1="1448.69" y1="472.80" x2="1448.69" y2="458.80" stroke="#000" stroke-width="1.8" />
<text x="1448.69" y="512.90" font-size="27.3" text-anchor="middle" font-weight="normal" font-family='"Liberation Sans", Arial, Helvetica, sans-serif' stroke="#000" stroke-width="0.45" >400</text>
<line x1="1466.11" y1="472.80" x2="1466.11" y2="465.80" stroke="#000" stroke-width="1.8" />
<line x1="1483.53" y1="472.80" x2="1483.53" y2="465.80" stroke="#000" stroke-width="1.8" />
<line x1="1500.95" y1="472.80" x2="1500.95" y2="465.80" stroke="#000" stroke-width="1.8" />
<line x1="1518.36" y1="472.80" x2="1518.36" y2="465.80" stroke="#000" stroke-width="1.8" />
<line x1="1535.78" y1="472.80" x2="1535.78" y2="458.80" stroke="#000" stroke-width="1.8" />
<text x="1535.78" y="512.90" font-size="27.3" text-anchor="middle" font-weight="normal" font-family='"Liberation Sans", Arial, Helvetica, sans-serif' stroke="#000" stroke-width="0.45" >500</text>
<line x1="1553.20" y1="472.80" x2="1553.20" y2="465.80" stroke="#000" stroke-width="1.8" />
<line x1="1570.61" y1="472.80" x2="1570.61" y2="465.80" stroke="#000" stroke-width="1.8" />
<line x1="1588.03" y1="472.80" x2="1588.03" y2="465.80" stroke="#000" stroke-width="1.8" />
<line x1="1605.45" y1="472.80" x2="1605.45" y2="465.80" stroke="#000" stroke-width="1.8" />
<line x1="1622.86" y1="472.80" x2="1622.86" y2="458.80" stroke="#000" stroke-width="1.8" />
<text x="1622.86" y="512.90" font-size="27.3" text-anchor="middle" font-weight="normal" font-family='"Liberation Sans", Arial, Helvetica, sans-serif' stroke="#000" stroke-width="0.45" >600</text>
<line x1="1640.28" y1="472.80" x2="1640.28" y2="465.80" stroke="#000" stroke-width="1.8" />
<line x1="1657.70" y1="472.80" x2="1657.70" y2="465.80" stroke="#000" stroke-width="1.8" />
<line x1="1675.11" y1="472.80" x2="1675.11" y2="465.80" stroke="#000" stroke-width="1.8" />
<line x1="1692.53" y1="472.80" x2="1692.53" y2="465.80" stroke="#000" stroke-width="1.8" />
<line x1="1709.95" y1="472.80" x2="1709.95" y2="458.80" stroke="#000" stroke-width="1.8" />
<text x="1709.95" y="512.90" font-size="27.3" text-anchor="middle" font-weight="normal" font-family='"Liberation Sans", Arial, Helvetica, sans-serif' stroke="#000" stroke-width="0.45" >700</text>
<line x1="1727.36" y1="472.80" x2="1727.36" y2="465.80" stroke="#000" stroke-width="1.8" />
<line x1="1744.78" y1="472.80" x2="1744.78" y2="465.80" stroke="#000" stroke-width="1.8" />
<line x1="1762.20" y1="472.80" x2="1762.20" y2="465.80" stroke="#000" stroke-width="1.8" />
<line x1="1779.61" y1="472.80" x2="1779.61" y2="465.80" stroke="#000" stroke-width="1.8" />
<line x1="1797.03" y1="472.80" x2="1797.03" y2="458.80" stroke="#000" stroke-width="1.8" />
<text x="1797.03" y="512.90" font-size="27.3" text-anchor="middle" font-weight="normal" font-family='"Liberation Sans", Arial, Helvetica, sans-serif' stroke="#000" stroke-width="0.45" >800</text>
<line x1="1814.45" y1="472.80" x2="1814.45" y2="465.80" stroke="#000" stroke-width="1.8" />
<line x1="1831.87" y1="472.80" x2="1831.87" y2="465.80" stroke="#000" stroke-width="1.8" />
<line x1="1849.28" y1="472.80" x2="1849.28" y2="465.80" stroke="#000" stroke-width="1.8" />
<line x1="1866.70" y1="472.80" x2="1866.70" y2="465.80" stroke="#000" stroke-width="1.8" />
<line x1="1884.12" y1="472.80" x2="1884.12" y2="458.80" stroke="#000" stroke-width="1.8" />
<text x="1884.12" y="512.90" font-size="27.3" text-anchor="middle" font-weight="normal" font-family='"Liberation Sans", Arial, Helvetica, sans-serif' stroke="#000" stroke-width="0.45" >900</text>
<line x1="1901.53" y1="472.80" x2="1901.53" y2="465.80" stroke="#000" stroke-width="1.8" />
<line x1="1918.95" y1="472.80" x2="1918.95" y2="465.80" stroke="#000" stroke-width="1.8" />
<line x1="1936.37" y1="472.80" x2="1936.37" y2="465.80" stroke="#000" stroke-width="1.8" />
<line x1="1953.78" y1="472.80" x2="1953.78" y2="465.80" stroke="#000" stroke-width="1.8" />
<line x1="1971.20" y1="472.80" x2="1971.20" y2="458.80" stroke="#000" stroke-width="1.8" />
<text x="1971.20" y="512.90" font-size="27.3" text-anchor="middle" font-weight="normal" font-family='"Liberation Sans", Arial, Helvetica, sans-serif' stroke="#000" stroke-width="0.45" >1000</text>
<line x1="1143.90" y1="472.80" x2="1168.40" y2="472.80" stroke="#000" stroke-width="1.8" />
<line x1="1143.90" y1="438.77" x2="1156.30" y2="438.77" stroke="#000" stroke-width="1.8" />
<line x1="1143.90" y1="418.86" x2="1156.30" y2="418.86" stroke="#000" stroke-width="1.8" />
<line x1="1143.90" y1="404.74" x2="1156.30" y2="404.74" stroke="#000" stroke-width="1.8" />
<line x1="1143.90" y1="393.78" x2="1156.30" y2="393.78" stroke="#000" stroke-width="1.8" />
<line x1="1143.90" y1="384.83" x2="1156.30" y2="384.83" stroke="#000" stroke-width="1.8" />
<line x1="1143.90" y1="377.26" x2="1156.30" y2="377.26" stroke="#000" stroke-width="1.8" />
<line x1="1143.90" y1="370.71" x2="1156.30" y2="370.71" stroke="#000" stroke-width="1.8" />
<line x1="1143.90" y1="364.92" x2="1156.30" y2="364.92" stroke="#000" stroke-width="1.8" />
<line x1="1143.90" y1="359.75" x2="1168.40" y2="359.75" stroke="#000" stroke-width="1.8" />
<line x1="1143.90" y1="325.72" x2="1156.30" y2="325.72" stroke="#000" stroke-width="1.8" />
<line x1="1143.90" y1="305.81" x2="1156.30" y2="305.81" stroke="#000" stroke-width="1.8" />
<line x1="1143.90" y1="291.69" x2="1156.30" y2="291.69" stroke="#000" stroke-width="1.8" />
<line x1="1143.90" y1="280.73" x2="1156.30" y2="280.73" stroke="#000" stroke-width="1.8" />
<line x1="1143.90" y1="271.78" x2="1156.30" y2="271.78" stroke="#000" stroke-width="1.8" />
<line x1="1143.90" y1="264.21" x2="1156.30" y2="264.21" stroke="#000" stroke-width="1.8" />
<line x1="1143.90" y1="257.66" x2="1156.30" y2="257.66" stroke="#000" stroke-width="1.8" />
<line x1="1143.90" y1="251.87" x2="1156.30" y2="251.87" stroke="#000" stroke-width="1.8" />
<line x1="1143.90" y1="246.70" x2="1168.40" y2="246.70" stroke="#000" stroke-width="1.8" />
<line x1="1143.90" y1="212.67" x2="1156.30" y2="212.67" stroke="#000" stroke-width="1.8" />
<line x1="1143.90" y1="192.76" x2="1156.30" y2="192.76" stroke="#000" stroke-width="1.8" />
<line x1="1143.90" y1="178.64" x2="1156.30" y2="178.64" stroke="#000" stroke-width="1.8" />
<line x1="1143.90" y1="167.68" x2="1156.30" y2="167.68" stroke="#000" stroke-width="1.8" />
<line x1="1143.90" y1="158.73" x2="1156.30" y2="158.73" stroke="#000" stroke-width="1.8" />
<line x1="1143.90" y1="151.16" x2="1156.30" y2="151.16" stroke="#000" stroke-width="1.8" />
<line x1="1143.90" y1="144.61" x2="1156.30" y2="144.61" stroke="#000" stroke-width="1.8" />
<line x1="1143.90" y1="138.82" x2="1156.30" y2="138.82" stroke="#000" stroke-width="1.8" />
<line x1="1143.90" y1="133.65" x2="1168.40" y2="133.65" stroke="#000" stroke-width="1.8" />
<line x1="1143.90" y1="99.62" x2="1156.30" y2="99.62" stroke="#000" stroke-width="1.8" />
<line x1="1143.90" y1="79.71" x2="1156.30" y2="79.71" stroke="#000" stroke-width="1.8" />
<line x1="1143.90" y1="65.59" x2="1156.30" y2="65.59" stroke="#000" stroke-width="1.8" />
<line x1="1143.90" y1="54.63" x2="1156.30" y2="54.63" stroke="#000" stroke-width="1.8" />
<line x1="1143.90" y1="45.68" x2="1156.30" y2="45.68" stroke="#000" stroke-width="1.8" />
<line x1="1143.90" y1="38.11" x2="1156.30" y2="38.11" stroke="#000" stroke-width="1.8" />
<line x1="1143.90" y1="31.56" x2="1156.30" y2="31.56" stroke="#000" stroke-width="1.8" />
<line x1="1143.90" y1="25.77" x2="1156.30" y2="25.77" stroke="#000" stroke-width="1.8" />
<line x1="1143.90" y1="20.60" x2="1168.40" y2="20.60" stroke="#000" stroke-width="1.6" />
<text x="1135.70" y="485.30" font-size="27.3" text-anchor="end" font-weight="normal" font-family='"Liberation Sans", Arial, Helvetica, sans-serif' stroke="#000" stroke-width="0.45" >10<tspan font-size="14.5" dx="-0.5" dy="-12.5">−</tspan><tspan font-size="17" dx="-0.6" dy="0.5">1</tspan></text>
<text x="1135.70" y="372.25" font-size="27.3" text-anchor="end" font-weight="normal" font-family='"Liberation Sans", Arial, Helvetica, sans-serif' stroke="#000" stroke-width="0.45" >1</text>
<text x="1135.70" y="259.20" font-size="27.3" text-anchor="end" font-weight="normal" font-family='"Liberation Sans", Arial, Helvetica, sans-serif' stroke="#000" stroke-width="0.45" >10</text>
<text x="1135.70" y="146.15" font-size="27.3" text-anchor="end" font-weight="normal" font-family='"Liberation Sans", Arial, Helvetica, sans-serif' stroke="#000" stroke-width="0.45" >10<tspan font-size="17" dx="-1.5" dy="-12">2</tspan></text>
<text x="1135.70" y="33.10" font-size="27.3" text-anchor="end" font-weight="normal" font-family='"Liberation Sans", Arial, Helvetica, sans-serif' stroke="#000" stroke-width="0.45" >10<tspan font-size="17" dx="-1.5" dy="-12">3</tspan></text>
<path d="M1143.90,13.31 L1145.64,17.16 L1147.38,20.87 L1149.13,24.44 L1150.87,27.88 L1152.61,31.21 L1154.35,34.43 L1156.09,37.55 L1157.83,40.57 L1159.58,43.50 L1161.32,46.35 L1163.06,49.11 L1164.80,51.80 L1166.54,54.42 L1168.28,56.97 L1170.03,59.46 L1171.77,61.88 L1173.51,64.25 L1175.25,66.56 L1176.99,68.82 L1178.73,71.03 L1180.48,73.18 L1182.22,75.30 L1183.96,77.36 L1185.70,79.39 L1187.44,81.37 L1189.18,83.32 L1190.93,85.22 L1192.67,87.09 L1194.41,88.93 L1196.15,90.73 L1197.89,92.50 L1199.63,94.24 L1201.38,95.95 L1203.12,97.62 L1204.86,99.27 L1206.60,100.90 L1208.34,102.49 L1210.08,104.07 L1211.83,105.61 L1213.57,107.13 L1215.31,108.63 L1217.05,110.11 L1218.79,111.56 L1220.53,113.00 L1222.28,114.41 L1224.02,115.80 L1225.76,117.18 L1227.50,118.53 L1229.24,119.87 L1230.98,121.19 L1232.73,122.49 L1234.47,123.77 L1236.21,125.04 L1237.95,126.29 L1239.69,127.52 L1241.43,128.74 L1243.18,129.95 L1244.92,131.14 L1246.66,132.31 L1248.40,133.48 L1250.14,134.62 L1251.88,135.76 L1253.63,136.88 L1255.37,137.99 L1257.11,139.09 L1258.85,140.17 L1260.59,141.25 L1262.33,142.31 L1264.08,143.36 L1265.82,144.40 L1267.56,145.43 L1269.30,146.44 L1271.04,147.45 L1272.78,148.45 L1274.53,149.43 L1278.88,151.86 L1283.23,154.23 L1287.59,156.54 L1291.94,158.79 L1296.30,161.00 L1300.65,163.16 L1305.01,165.27 L1309.36,167.34 L1313.71,169.36 L1318.07,171.35 L1322.42,173.29 L1326.78,175.20 L1331.13,177.07 L1335.49,178.90 L1339.84,180.70 L1344.19,182.47 L1348.55,184.21 L1352.90,185.92 L1357.26,187.60 L1361.61,189.25 L1365.96,190.87 L1370.32,192.47 L1374.67,194.04 L1379.03,195.59 L1383.38,197.11 L1387.74,198.61 L1392.09,200.08 L1396.44,201.54 L1400.80,202.97 L1405.15,204.39 L1409.51,205.78 L1413.86,207.15 L1418.22,208.51 L1422.57,209.84 L1426.92,211.16 L1431.28,212.46 L1435.63,213.74 L1439.99,215.01 L1444.34,216.26 L1448.69,217.50 L1453.05,218.72 L1457.40,219.92 L1461.76,221.11 L1466.11,222.29 L1470.47,223.45 L1474.82,224.60 L1479.17,225.73 L1483.53,226.86 L1487.88,227.97 L1492.24,229.06 L1496.59,230.15 L1500.95,231.22 L1505.30,232.28 L1509.65,233.33 L1514.01,234.37 L1518.36,235.40 L1522.72,236.42 L1527.07,237.43 L1531.42,238.42 L1535.78,239.41 L1540.13,240.39 L1544.49,241.35 L1548.84,242.31 L1553.20,243.26 L1557.55,244.20 L1561.90,245.13 L1566.26,246.05 L1570.61,246.97 L1574.97,247.87 L1579.32,248.77 L1583.68,249.66 L1588.03,250.54 L1592.38,251.41 L1596.74,252.27 L1601.09,253.13 L1605.45,253.98 L1609.80,254.83 L1614.15,255.66 L1618.51,256.49 L1622.86,257.31 L1627.22,258.13 L1631.57,258.93 L1635.93,259.74 L1640.28,260.53 L1644.63,261.32 L1648.99,262.10 L1653.34,262.88 L1657.70,263.65 L1662.05,264.41 L1666.41,265.17 L1670.76,265.92 L1675.11,266.67 L1679.47,267.41 L1683.82,268.15 L1688.18,268.88 L1692.53,269.60 L1696.88,270.32 L1701.24,271.04 L1705.59,271.74 L1709.95,272.45 L1714.30,273.15 L1718.66,273.84 L1723.01,274.53 L1727.36,275.21 L1731.72,275.89 L1736.07,276.57 L1740.43,277.24 L1744.78,277.90 L1749.14,278.57 L1753.49,279.22 L1757.84,279.88 L1762.20,280.52 L1766.55,281.17 L1770.91,281.81 L1775.26,282.44 L1779.61,283.07 L1783.97,283.70 L1788.32,284.33 L1792.68,284.94 L1797.03,285.56 L1801.39,286.17 L1805.74,286.78 L1810.09,287.38 L1814.45,287.98 L1818.80,288.58 L1823.16,289.18 L1827.51,289.76 L1831.87,290.35 L1836.22,290.93 L1840.57,291.51 L1844.93,292.09 L1849.28,292.66 L1853.64,293.23 L1857.99,293.80 L1862.34,294.36 L1866.70,294.92 L1871.05,295.48 L1875.41,296.03 L1879.76,296.58 L1884.12,297.13 L1888.47,297.67 L1892.82,298.21 L1897.18,298.75 L1901.53,299.28 L1905.89,299.82 L1910.24,300.35 L1914.60,300.87 L1918.95,301.40 L1923.30,301.92 L1927.66,302.43 L1932.01,302.95 L1936.37,303.46 L1940.72,303.97 L1945.07,304.48 L1949.43,304.99 L1953.78,305.49 L1958.14,305.99 L1962.49,306.48 L1966.85,306.98 L1971.20,307.47" fill="none" stroke="#ff0000" stroke-width="4.2" stroke-linejoin="round" clip-path="url(#cr)"/>
<path d="M1143.90,75.26 L1145.64,79.11 L1147.38,82.81 L1149.13,86.38 L1150.87,89.83 L1152.61,93.16 L1154.35,96.38 L1156.09,99.50 L1157.83,102.52 L1159.58,105.45 L1161.32,108.30 L1163.06,111.06 L1164.80,113.75 L1166.54,116.37 L1168.28,118.92 L1170.03,121.41 L1171.77,123.83 L1173.51,126.20 L1175.25,128.51 L1176.99,130.77 L1178.73,132.97 L1180.48,135.13 L1182.22,137.24 L1183.96,139.31 L1185.70,141.33 L1187.44,143.32 L1189.18,145.26 L1190.93,147.17 L1192.67,149.04 L1194.41,150.88 L1196.15,152.68 L1197.89,154.45 L1199.63,156.18 L1201.38,157.89 L1203.12,159.57 L1204.86,161.22 L1206.60,162.84 L1208.34,164.44 L1210.08,166.01 L1211.83,167.56 L1213.57,169.08 L1215.31,170.58 L1217.05,172.06 L1218.79,173.51 L1220.53,174.95 L1222.28,176.36 L1224.02,177.75 L1225.76,179.12 L1227.50,180.48 L1229.24,181.81 L1230.98,183.13 L1232.73,184.43 L1234.47,185.72 L1236.21,186.98 L1237.95,188.23 L1239.69,189.47 L1241.43,190.69 L1243.18,191.89 L1244.92,193.08 L1246.66,194.26 L1248.40,195.42 L1250.14,196.57 L1251.88,197.71 L1253.63,198.83 L1255.37,199.94 L1257.11,201.04 L1258.85,202.12 L1260.59,203.19 L1262.33,204.26 L1264.08,205.31 L1265.82,206.34 L1267.56,207.37 L1269.30,208.39 L1271.04,209.40 L1272.78,210.39 L1274.53,211.38 L1278.88,213.81 L1283.23,216.17 L1287.59,218.48 L1291.94,220.74 L1296.30,222.95 L1300.65,225.11 L1305.01,227.22 L1309.36,229.28 L1313.71,231.31 L1318.07,233.29 L1322.42,235.24 L1326.78,237.14 L1331.13,239.01 L1335.49,240.85 L1339.84,242.65 L1344.19,244.42 L1348.55,246.16 L1352.90,247.87 L1357.26,249.55 L1361.61,251.20 L1365.96,252.82 L1370.32,254.42 L1374.67,255.99 L1379.03,257.53 L1383.38,259.06 L1387.74,260.55 L1392.09,262.03 L1396.44,263.49 L1400.80,264.92 L1405.15,266.33 L1409.51,267.73 L1413.86,269.10 L1418.22,270.45 L1422.57,271.79 L1426.92,273.11 L1431.28,274.41 L1435.63,275.69 L1439.99,276.96 L1444.34,278.21 L1448.69,279.44 L1453.05,280.66 L1457.40,281.87 L1461.76,283.06 L1466.11,284.24 L1470.47,285.40 L1474.82,286.55 L1479.17,287.68 L1483.53,288.80 L1487.88,289.91 L1492.24,291.01 L1496.59,292.09 L1500.95,293.17 L1505.30,294.23 L1509.65,295.28 L1514.01,296.32 L1518.36,297.35 L1522.72,298.36 L1527.07,299.37 L1531.42,300.37 L1535.78,301.36 L1540.13,302.33 L1544.49,303.30 L1548.84,304.26 L1553.20,305.21 L1557.55,306.15 L1561.90,307.08 L1566.26,308.00 L1570.61,308.91 L1574.97,309.82 L1579.32,310.71 L1583.68,311.60 L1588.03,312.48 L1592.38,313.36 L1596.74,314.22 L1601.09,315.08 L1605.45,315.93 L1609.80,316.77 L1614.15,317.61 L1618.51,318.44 L1622.86,319.26 L1627.22,320.07 L1631.57,320.88 L1635.93,321.68 L1640.28,322.48 L1644.63,323.27 L1648.99,324.05 L1653.34,324.83 L1657.70,325.60 L1662.05,326.36 L1666.41,327.12 L1670.76,327.87 L1675.11,328.62 L1679.47,329.36 L1683.82,330.09 L1688.18,330.82 L1692.53,331.55 L1696.88,332.27 L1701.24,332.98 L1705.59,333.69 L1709.95,334.40 L1714.30,335.09 L1718.66,335.79 L1723.01,336.48 L1727.36,337.16 L1731.72,337.84 L1736.07,338.52 L1740.43,339.19 L1744.78,339.85 L1749.14,340.51 L1753.49,341.17 L1757.84,341.82 L1762.20,342.47 L1766.55,343.11 L1770.91,343.75 L1775.26,344.39 L1779.61,345.02 L1783.97,345.65 L1788.32,346.27 L1792.68,346.89 L1797.03,347.51 L1801.39,348.12 L1805.74,348.73 L1810.09,349.33 L1814.45,349.93 L1818.80,350.53 L1823.16,351.12 L1827.51,351.71 L1831.87,352.30 L1836.22,352.88 L1840.57,353.46 L1844.93,354.04 L1849.28,354.61 L1853.64,355.18 L1857.99,355.74 L1862.34,356.31 L1866.70,356.87 L1871.05,357.42 L1875.41,357.98 L1879.76,358.53 L1884.12,359.07 L1888.47,359.62 L1892.82,360.16 L1897.18,360.70 L1901.53,361.23 L1905.89,361.76 L1910.24,362.29 L1914.60,362.82 L1918.95,363.34 L1923.30,363.86 L1927.66,364.38 L1932.01,364.90 L1936.37,365.41 L1940.72,365.92 L1945.07,366.43 L1949.43,366.93 L1953.78,367.43 L1958.14,367.93 L1962.49,368.43 L1966.85,368.93 L1971.20,369.42" fill="none" stroke="#ff0000" stroke-width="4.2" stroke-linejoin="round" stroke-dasharray="9 9.3" stroke-dashoffset="0" clip-path="url(#cr)"/>
<path d="M1143.90,-1.62 L1145.64,2.23 L1147.38,5.94 L1149.13,9.51 L1150.87,12.96 L1152.61,16.28 L1154.35,19.50 L1156.09,22.62 L1157.83,25.64 L1159.58,28.57 L1161.32,31.42 L1163.06,34.19 L1164.80,36.88 L1166.54,39.50 L1168.28,42.05 L1170.03,44.53 L1171.77,46.96 L1173.51,49.32 L1175.25,51.63 L1176.99,53.89 L1178.73,56.10 L1180.48,58.26 L1182.22,60.37 L1183.96,62.44 L1185.70,64.46 L1187.44,66.44 L1189.18,68.39 L1190.93,70.30 L1192.67,72.17 L1194.41,74.00 L1196.15,75.80 L1197.89,77.57 L1199.63,79.31 L1201.38,81.02 L1203.12,82.70 L1204.86,84.35 L1206.60,85.97 L1208.34,87.57 L1210.08,89.14 L1211.83,90.68 L1213.57,92.21 L1215.31,93.71 L1217.05,95.18 L1218.79,96.64 L1220.53,98.07 L1222.28,99.48 L1224.02,100.88 L1225.76,102.25 L1227.50,103.60 L1229.24,104.94 L1230.98,106.26 L1232.73,107.56 L1234.47,108.84 L1236.21,110.11 L1237.95,111.36 L1239.69,112.60 L1241.43,113.82 L1243.18,115.02 L1244.92,116.21 L1246.66,117.39 L1248.40,118.55 L1250.14,119.70 L1251.88,120.83 L1253.63,121.95 L1255.37,123.06 L1257.11,124.16 L1258.85,125.25 L1260.59,126.32 L1262.33,127.38 L1264.08,128.43 L1265.82,129.47 L1267.56,130.50 L1269.30,131.52 L1271.04,132.52 L1272.78,133.52 L1274.53,134.51 L1278.88,136.93 L1283.23,139.30 L1287.59,141.61 L1291.94,143.87 L1296.30,146.07 L1300.65,148.23 L1305.01,150.34 L1309.36,152.41 L1313.71,154.44 L1318.07,156.42 L1322.42,158.36 L1326.78,160.27 L1331.13,162.14 L1335.49,163.98 L1339.84,165.78 L1344.19,167.55 L1348.55,169.28 L1352.90,170.99 L1357.26,172.67 L1361.61,174.32 L1365.96,175.94 L1370.32,177.54 L1374.67,179.11 L1379.03,180.66 L1383.38,182.18 L1387.74,183.68 L1392.09,185.16 L1396.44,186.61 L1400.80,188.05 L1405.15,189.46 L1409.51,190.85 L1413.86,192.22 L1418.22,193.58 L1422.57,194.91 L1426.92,196.23 L1431.28,197.53 L1435.63,198.82 L1439.99,200.08 L1444.34,201.34 L1448.69,202.57 L1453.05,203.79 L1457.40,204.99 L1461.76,206.19 L1466.11,207.36 L1470.47,208.52 L1474.82,209.67 L1479.17,210.81 L1483.53,211.93 L1487.88,213.04 L1492.24,214.14 L1496.59,215.22 L1500.95,216.29 L1505.30,217.36 L1509.65,218.41 L1514.01,219.44 L1518.36,220.47 L1522.72,221.49 L1527.07,222.50 L1531.42,223.49 L1535.78,224.48 L1540.13,225.46 L1544.49,226.43 L1548.84,227.38 L1553.20,228.33 L1557.55,229.27 L1561.90,230.20 L1566.26,231.13 L1570.61,232.04 L1574.97,232.94 L1579.32,233.84 L1583.68,234.73 L1588.03,235.61 L1592.38,236.48 L1596.74,237.35 L1601.09,238.21 L1605.45,239.06 L1609.80,239.90 L1614.15,240.73 L1618.51,241.56 L1622.86,242.38 L1627.22,243.20 L1631.57,244.01 L1635.93,244.81 L1640.28,245.60 L1644.63,246.39 L1648.99,247.18 L1653.34,247.95 L1657.70,248.72 L1662.05,249.49 L1666.41,250.24 L1670.76,251.00 L1675.11,251.74 L1679.47,252.48 L1683.82,253.22 L1688.18,253.95 L1692.53,254.67 L1696.88,255.39 L1701.24,256.11 L1705.59,256.82 L1709.95,257.52 L1714.30,258.22 L1718.66,258.91 L1723.01,259.60 L1727.36,260.29 L1731.72,260.97 L1736.07,261.64 L1740.43,262.31 L1744.78,262.98 L1749.14,263.64 L1753.49,264.30 L1757.84,264.95 L1762.20,265.60 L1766.55,266.24 L1770.91,266.88 L1775.26,267.52 L1779.61,268.15 L1783.97,268.77 L1788.32,269.40 L1792.68,270.02 L1797.03,270.63 L1801.39,271.25 L1805.74,271.85 L1810.09,272.46 L1814.45,273.06 L1818.80,273.65 L1823.16,274.25 L1827.51,274.84 L1831.87,275.42 L1836.22,276.01 L1840.57,276.59 L1844.93,277.16 L1849.28,277.73 L1853.64,278.30 L1857.99,278.87 L1862.34,279.43 L1866.70,279.99 L1871.05,280.55 L1875.41,281.10 L1879.76,281.65 L1884.12,282.20 L1888.47,282.74 L1892.82,283.28 L1897.18,283.82 L1901.53,284.36 L1905.89,284.89 L1910.24,285.42 L1914.60,285.95 L1918.95,286.47 L1923.30,286.99 L1927.66,287.51 L1932.01,288.02 L1936.37,288.54 L1940.72,289.05 L1945.07,289.55 L1949.43,290.06 L1953.78,290.56 L1958.14,291.06 L1962.49,291.56 L1966.85,292.05 L1971.20,292.54" fill="none" stroke="#00008a" stroke-width="4.2" stroke-linejoin="round" clip-path="url(#cr)"/>
<path d="M1143.90,56.94 L1145.64,60.79 L1147.38,64.50 L1149.13,68.07 L1150.87,71.52 L1152.61,74.85 L1154.35,78.07 L1156.09,81.18 L1157.83,84.21 L1159.58,87.14 L1161.32,89.98 L1163.06,92.75 L1164.80,95.44 L1166.54,98.06 L1168.28,100.61 L1170.03,103.10 L1171.77,105.52 L1173.51,107.89 L1175.25,110.20 L1176.99,112.45 L1178.73,114.66 L1180.48,116.82 L1182.22,118.93 L1183.96,121.00 L1185.70,123.02 L1187.44,125.01 L1189.18,126.95 L1190.93,128.86 L1192.67,130.73 L1194.41,132.56 L1196.15,134.37 L1197.89,136.13 L1199.63,137.87 L1201.38,139.58 L1203.12,141.26 L1204.86,142.91 L1206.60,144.53 L1208.34,146.13 L1210.08,147.70 L1211.83,149.25 L1213.57,150.77 L1215.31,152.27 L1217.05,153.74 L1218.79,155.20 L1220.53,156.63 L1222.28,158.05 L1224.02,159.44 L1225.76,160.81 L1227.50,162.17 L1229.24,163.50 L1230.98,164.82 L1232.73,166.12 L1234.47,167.40 L1236.21,168.67 L1237.95,169.92 L1239.69,171.16 L1241.43,172.38 L1243.18,173.58 L1244.92,174.77 L1246.66,175.95 L1248.40,177.11 L1250.14,178.26 L1251.88,179.39 L1253.63,180.52 L1255.37,181.63 L1257.11,182.72 L1258.85,183.81 L1260.59,184.88 L1262.33,185.94 L1264.08,186.99 L1265.82,188.03 L1267.56,189.06 L1269.30,190.08 L1271.04,191.09 L1272.78,192.08 L1274.53,193.07 L1278.88,195.49 L1283.23,197.86 L1287.59,200.17 L1291.94,202.43 L1296.30,204.63 L1300.65,206.79 L1305.01,208.90 L1309.36,210.97 L1313.71,213.00 L1318.07,214.98 L1322.42,216.93 L1326.78,218.83 L1331.13,220.70 L1335.49,222.54 L1339.84,224.34 L1344.19,226.11 L1348.55,227.85 L1352.90,229.55 L1357.26,231.23 L1361.61,232.88 L1365.96,234.51 L1370.32,236.10 L1374.67,237.67 L1379.03,239.22 L1383.38,240.74 L1387.74,242.24 L1392.09,243.72 L1396.44,245.17 L1400.80,246.61 L1405.15,248.02 L1409.51,249.41 L1413.86,250.79 L1418.22,252.14 L1422.57,253.48 L1426.92,254.79 L1431.28,256.10 L1435.63,257.38 L1439.99,258.65 L1444.34,259.90 L1448.69,261.13 L1453.05,262.35 L1457.40,263.56 L1461.76,264.75 L1466.11,265.92 L1470.47,267.09 L1474.82,268.23 L1479.17,269.37 L1483.53,270.49 L1487.88,271.60 L1492.24,272.70 L1496.59,273.78 L1500.95,274.86 L1505.30,275.92 L1509.65,276.97 L1514.01,278.01 L1518.36,279.04 L1522.72,280.05 L1527.07,281.06 L1531.42,282.06 L1535.78,283.04 L1540.13,284.02 L1544.49,284.99 L1548.84,285.95 L1553.20,286.89 L1557.55,287.83 L1561.90,288.77 L1566.26,289.69 L1570.61,290.60 L1574.97,291.51 L1579.32,292.40 L1583.68,293.29 L1588.03,294.17 L1592.38,295.04 L1596.74,295.91 L1601.09,296.77 L1605.45,297.62 L1609.80,298.46 L1614.15,299.30 L1618.51,300.12 L1622.86,300.95 L1627.22,301.76 L1631.57,302.57 L1635.93,303.37 L1640.28,304.17 L1644.63,304.95 L1648.99,305.74 L1653.34,306.51 L1657.70,307.28 L1662.05,308.05 L1666.41,308.81 L1670.76,309.56 L1675.11,310.31 L1679.47,311.05 L1683.82,311.78 L1688.18,312.51 L1692.53,313.24 L1696.88,313.96 L1701.24,314.67 L1705.59,315.38 L1709.95,316.08 L1714.30,316.78 L1718.66,317.48 L1723.01,318.16 L1727.36,318.85 L1731.72,319.53 L1736.07,320.20 L1740.43,320.87 L1744.78,321.54 L1749.14,322.20 L1753.49,322.86 L1757.84,323.51 L1762.20,324.16 L1766.55,324.80 L1770.91,325.44 L1775.26,326.08 L1779.61,326.71 L1783.97,327.34 L1788.32,327.96 L1792.68,328.58 L1797.03,329.20 L1801.39,329.81 L1805.74,330.41 L1810.09,331.02 L1814.45,331.62 L1818.80,332.22 L1823.16,332.81 L1827.51,333.40 L1831.87,333.99 L1836.22,334.57 L1840.57,335.15 L1844.93,335.72 L1849.28,336.30 L1853.64,336.87 L1857.99,337.43 L1862.34,337.99 L1866.70,338.55 L1871.05,339.11 L1875.41,339.66 L1879.76,340.21 L1884.12,340.76 L1888.47,341.30 L1892.82,341.85 L1897.18,342.38 L1901.53,342.92 L1905.89,343.45 L1910.24,343.98 L1914.60,344.51 L1918.95,345.03 L1923.30,345.55 L1927.66,346.07 L1932.01,346.59 L1936.37,347.10 L1940.72,347.61 L1945.07,348.12 L1949.43,348.62 L1953.78,349.12 L1958.14,349.62 L1962.49,350.12 L1966.85,350.61 L1971.20,351.11" fill="none" stroke="#00008a" stroke-width="4.2" stroke-linejoin="round" stroke-dasharray="9 9.3" stroke-dashoffset="0" clip-path="url(#cr)"/>
<text x="1974.00" y="545.00" font-size="29.3" text-anchor="end" font-weight="normal" font-family='"Liberation Sans", Arial, Helvetica, sans-serif' stroke="#000" stroke-width="0.45" >Distance [pc]</text>
<text x="1060.20" y="386.30" font-size="29.3" text-anchor="start" font-weight="normal" font-family='"Liberation Sans", Arial, Helvetica, sans-serif' stroke="#000" stroke-width="0.45" transform="rotate(-90 1060.2 386.3)">Integrated number of events</text>
<text x="1484.20" y="45.60" font-size="26.7" text-anchor="start" font-weight="bold" font-family='"Liberation Sans", Arial, Helvetica, sans-serif' >15 M</text>
<text x="1537.50" y="54.66" font-size="21.5" text-anchor="start" font-weight="bold" font-family='"DejaVu Sans", "Liberation Sans", sans-serif' stroke="#000" stroke-width="0.2" >⊙</text>
<text x="1557.60" y="45.60" font-size="26.7" text-anchor="start" font-weight="bold" font-family='"Liberation Sans", Arial, Helvetica, sans-serif' >stars (SK)</text>
<line x1="1518.90" y1="77.70" x2="1580.70" y2="77.70" stroke="#ff0000" stroke-width="4.2" />
<text x="1592.90" y="85.10" font-size="26" text-anchor="start" font-weight="normal" font-family='"Liberation Sans", Arial, Helvetica, sans-serif' stroke="#000" stroke-width="0.45" >Odrzywolek, NO</text>
<line x1="1518.90" y1="111.53" x2="1580.70" y2="111.53" stroke="#ff0000" stroke-width="4.2" stroke-dasharray="9 9.3"/>
<text x="1592.90" y="118.93" font-size="26" text-anchor="start" font-weight="normal" font-family='"Liberation Sans", Arial, Helvetica, sans-serif' stroke="#000" stroke-width="0.45" >Odrzywolek, IO</text>
<line x1="1518.90" y1="145.36" x2="1580.70" y2="145.36" stroke="#00008a" stroke-width="4.2" />
<text x="1592.90" y="152.76" font-size="26" text-anchor="start" font-weight="normal" font-family='"Liberation Sans", Arial, Helvetica, sans-serif' stroke="#000" stroke-width="0.45" >Patton, NO</text>
<line x1="1518.90" y1="179.19" x2="1580.70" y2="179.19" stroke="#00008a" stroke-width="4.2" stroke-dasharray="9 9.3"/>
<text x="1592.90" y="186.59" font-size="26" text-anchor="start" font-weight="normal" font-family='"Liberation Sans", Arial, Helvetica, sans-serif' stroke="#000" stroke-width="0.45" >Patton, IO</text>
<line x1="1212.00" y1="360.00" x2="1292.10" y2="360.00" stroke="#000" stroke-width="1.6" stroke-dasharray="1.8 3.66"/>
<text x="1308.30" y="367.60" font-size="18.85" text-anchor="start" font-weight="normal" font-family='"Liberation Sans", Arial, Helvetica, sans-serif' stroke="#000" stroke-width="0.45" >Background (high reactor activity)</text>
<line x1="1212.00" y1="393.85" x2="1292.10" y2="393.85" stroke="#000" stroke-width="1.6" stroke-dasharray="9.3 8.9"/>
<text x="1308.30" y="401.25" font-size="18.85" text-anchor="start" font-weight="normal" font-family='"Liberation Sans", Arial, Helvetica, sans-serif' stroke="#000" stroke-width="0.45" >Background (medium reactor activity)</text>
<line x1="1212.00" y1="427.70" x2="1292.10" y2="427.70" stroke="#000" stroke-width="1.6" stroke-dasharray="9.7 5.2 1.8 5.2"/>
<text x="1308.30" y="434.90" font-size="18.85" text-anchor="start" font-weight="normal" font-family='"Liberation Sans", Arial, Helvetica, sans-serif' stroke="#000" stroke-width="0.45" >Background (low reactor activity)</text>
<text x="458.50" y="612.80" font-size="36" text-anchor="start" font-weight="normal" font-family='"Liberation Serif", "Times New Roman", serif' stroke="#000" stroke-width="0.2" >(<tspan font-family='"DejaVu Serif", serif' font-size="30">a</tspan>)</text>
<text x="1484.20" y="612.60" font-size="36" text-anchor="start" font-weight="normal" font-family='"Liberation Serif", "Times New Roman", serif' stroke="#000" stroke-width="0.2" >(<tspan font-family='"DejaVu Serif", serif' font-size="30">b</tspan>)</text>
</svg>
</body></html>
